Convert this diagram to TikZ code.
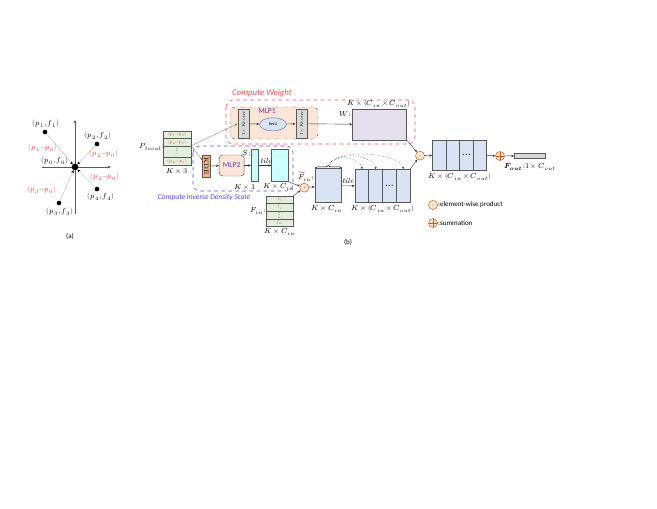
\documentclass[tikz,border=0pt]{standalone}
\usepackage{amsmath}
\usepackage{fontspec}
\usepackage{unicode-math}
\setmathfont{latinmodern-math.otf}
\newfontfamily\carlito{Carlito}
\usetikzlibrary{arrows.meta,shapes.geometric,decorations.pathreplacing}

\definecolor{cellgreen}{HTML}{E2EFDA}
\definecolor{labred}{HTML}{E0403C}
\definecolor{forange}{HTML}{E46C3C}
\definecolor{peach}{HTML}{FBE5D6}
\definecolor{convgray}{HTML}{D9D9D9}
\definecolor{boxblue}{HTML}{DAE3F3}
\definecolor{wlav}{HTML}{E6DFEE}
\definecolor{kdeorange}{HTML}{F4B183}
\definecolor{tilecyan}{HTML}{CCFFFF}
\definecolor{mlpurple}{HTML}{7030A0}
\definecolor{wred}{HTML}{FF4B4B}
\definecolor{dblue}{HTML}{4B4BFF}
\definecolor{edgegray}{HTML}{595959}
\definecolor{circbrown}{HTML}{C55A11}
\definecolor{navy}{HTML}{1F3C88}

\newcommand\fsmath{\fontsize{6.3}{7}\selectfont}
\newcommand\fsred{\fontsize{6.3}{7}\selectfont}
\newcommand\fstiny{\fontsize{3.6}{4}\selectfont}
\newcommand\fssans{\carlito\fontsize{6}{7}\selectfont}
\newcommand\vdotsbig{{\fontsize{7.5}{7.5}\selectfont\bfseries$\vdots$}}

\begin{document}
\begin{tikzpicture}[x=0.03cm, y=-0.03cm,
	every node/.style={inner sep=0pt},
	lab/.style={font=\fsmath},
	redlab/.style={font=\fsred, text=labred},
	dot/.style={shape=circle, fill=black, minimum size=0.14cm},
	vec/.style={draw=gray!60, line width=0.3pt, -{Stealth[black, length=2.5pt, width=2.5pt]}},
	axis/.style={draw=edgegray, line width=0.4pt, -{Stealth[length=3pt, width=2.5pt]}},
	arr/.style={draw=black!80, line width=0.35pt, -{Stealth[length=2.5pt, width=2pt]}},
	gcell/.style={draw=edgegray, fill=cellgreen, minimum width=0.84cm, minimum height=0.225cm, font=\fstiny, text=labred},
	fcell/.style={draw=edgegray, fill=cellgreen, minimum width=0.81cm, minimum height=0.21cm, font=\fstiny, text=forange},
	conv/.style={draw=edgegray, fill=convgray, minimum width=0.345cm, minimum height=0.87cm, font=\fstiny},
	bcol/.style={draw=edgegray, fill=boxblue, minimum width=0.4125cm, minimum height=1.0cm, font=\fsmath},
	pcol/.style={draw=edgegray, fill=boxblue, minimum width=0.408cm, minimum height=0.92cm, font=\fsmath},
	mulc/.style={shape=circle, draw=circbrown, fill=peach, minimum size=0.27cm,
		path picture={\fill[black] (path picture bounding box.center) circle (0.35pt);}},
	sumc/.style={shape=circle, draw=circbrown, fill=peach, minimum size=0.27cm,
		path picture={\draw[circbrown] (path picture bounding box.north) -- (path picture bounding box.south)
			(path picture bounding box.west) -- (path picture bounding box.east);}},
	spread/.style={draw=navy, densely dotted, line width=0.35pt, -{Stealth[length=2pt, width=2pt]}}]
	
	\useasboundingbox (0,0) rectangle (657,508);
	
	% (a) local neighbourhood
	\coordinate (xl) at (42,167);
	\coordinate (xr) at (111,167);
	\coordinate (yb) at (75,214);
	\coordinate (yt) at (75,120);
	\draw[axis] (xl) -- (xr);
	\draw[axis] (yb) -- (yt);
	
	\node[dot, minimum size=0.2cm] (p0) at (75,167) {};
	\node[dot] (p1) at (45,132) {};
	\node[dot] (p2) at (97,144) {};
	\node[dot] (p3) at (59,203) {};
	\node[dot] (p4) at (97,189) {};
	
	\draw[vec] (p1) -- (p0);
	\draw[vec] (p2) -- (p0);
	\draw[vec] (p3) -- (p0);
	\draw[vec] (p4) -- (p0);
	
	\node[lab] (l1) at (46,124) {$(p_1,f_1)$};
	\node[lab] (l2) at (98,136) {$(p_2,f_2)$};
	\node[lab] (l3) at (60,212) {$(p_3,f_3)$};
	\node[lab] (l4) at (101,197) {$(p_4,f_4)$};
	\node[lab] (l0) at (55,161) {$(p_0,f_0)$};
	\node[redlab] (d1) at (43,148) {$(p_1{-}p_0)$};
	\node[redlab] (d2) at (104,154) {$(p_2{-}p_0)$};
	\node[redlab] (d4) at (105,177) {$(p_4{-}p_0)$};
	\node[redlab] (d3) at (42,190) {$(p_3{-}p_0)$};
	\node[font=\fssans] (capa) at (70,236) {(a)};
	
	% (b) frames
	\draw[wred, dashed, line width=0.45pt, rounded corners=6pt] (226,100) rectangle (415,144);
	\node[font=\carlito\itshape\fontsize{7.5}{8}\selectfont, text=wred] (tw) at (262,93) {Compute Weight};
	\draw[dblue, dashed, line width=0.45pt, rounded corners=6pt] (193,146) rectangle (293,191);
	\node[font=\carlito\itshape\fontsize{6.4}{7}\selectfont, text=dblue] (ts) at (204,197) {Compute Inverse Density Scale};
	
	% P_local
	\node[gcell] (pl1) at (177,134.75) {$(p_1{-}p_0)$};
	\node[gcell] (pl2) at (177,142.25) {$(p_2{-}p_0)$};
	\node[gcell, minimum height=0.345cm, text=black] (pld) at (177,151.75) {\vdotsbig};
	\node[gcell] (plk) at (177,161.25) {$(p_K{-}p_0)$};
	\node[lab] (plab) at (152,147) {$P_{local}$:};
	\node[lab] (pdim) at (177,171) {$K\times 3$};
	
	% MLP1 branch
	\node[draw=edgegray, fill=peach, dash dot, rounded corners=4pt, minimum width=2.64cm, minimum height=0.96cm] (mlp1) at (274,123) {};
	\node[font=\carlito\fontsize{6.5}{7}\selectfont, text=mlpurple] (mlp1lab) at (267,111) {MLP1};
	\node[conv] (conv1) at (243.5,123.7) {\rotatebox{90}{$1\times K$conv}};
	\node[shape=ellipse, draw=navy!70, fill=boxblue, minimum width=0.81cm, minimum height=0.39cm, font=\carlito\fontsize{3.5}{4}\selectfont] (relu) at (273,124.3) {ReLU};
	\node[conv] (conv2) at (301.5,123.7) {\rotatebox{90}{$1\times K$conv}};
	\node[draw=edgegray, fill=wlav, minimum width=1.62cm, minimum height=0.93cm] (wbox) at (379.5,124.5) {};
	\node[lab] (wlab) at (345,114) {$W$:};
	\node[lab] (wdim) at (379,104) {$K\times(C_{in}\times C_{out})$};
	
	\draw[draw=gray, line width=0.3pt, -{Stealth[length=2.5pt, width=2pt]}] (pld.north east) -- (conv1.west);
	\draw[arr] (conv1) -- (relu);
	\draw[arr] (relu) -- (conv2);
	\draw[arr] (conv2) -- (wbox);
	
	% density branch
	\node[draw=edgegray, fill=kdeorange, minimum width=0.225cm, minimum height=0.66cm, font=\fontsize{5.5}{6}\selectfont] (kde) at (206.3,166) {\rotatebox{-90}{KDE}};
	\node[draw=edgegray, fill=peach, rounded corners=3pt, minimum width=0.75cm, minimum height=0.63cm, font=\carlito\fontsize{6.5}{7}\selectfont, text=mlpurple] (mlp2) at (231.7,165.5) {MLP2};
	\node[draw=edgegray, fill=tilecyan, minimum width=0.22cm, minimum height=0.97cm] (sbar) at (254.7,165.5) {};
	\node[draw=edgegray, fill=tilecyan, minimum width=0.5cm, minimum height=0.97cm] (scin) at (280,165.5) {};
	\node[lab] (slab) at (247,153) {$S$:};
	\node[lab] (tile1) at (266,161) {\textit{tile}};
	\node[lab] (sdim) at (245,187) {$K\times 1$};
	\node[lab] (scdim) at (279,187) {$K\times C_{in}$};
	
	\draw[draw=gray, line width=0.3pt, -{Stealth[length=2.5pt, width=2pt]}] (pld.north east) -- ([yshift=5pt]kde.west);
	\draw[arr] (kde) -- (mlp2);
	\draw[arr] (mlp2) -- (sbar);
	\draw[arr] (sbar) -- (scin);
	
	% F_in
	\node[fcell] (fr1) at (279.5,199.5) {$f_1$};
	\node[fcell, minimum height=0.24cm] (fr2) at (279.5,207) {$f_2$};
	\node[fcell, minimum height=0.24cm, text=black] (frd) at (279.5,215) {\vdotsbig};
	\node[fcell] (frk) at (279.5,222.5) {$f_K$};
	\node[lab] (flab) at (258,211) {$F_{in}$:};
	\node[lab] (fdim) at (280,232) {$K\times C_{in}$};
	
	\node[mulc] (muls) at (304.3,187.7) {};
	\node[lab] (ftlab) at (306,177) {$\widetilde{F}_{in}$:};
	\draw[arr] (scin.south east) -- (muls);
	\draw[arr] (fr1.north east) -- (muls);
	
	% tiled features
	\node[draw=edgegray, fill=boxblue, minimum width=0.8cm, minimum height=1.03cm] (ktile) at (328.3,185.5) {};
	\node[lab] (kdim) at (327,209) {$K\times C_{in}$};
	\draw[arr] (muls) -- (ktile);
	
	\node[bcol] (c1) at (361.9,186) {};
	\node[bcol] (c2) at (375.6,186) {};
	\node[bcol] (c3) at (389.4,186) {\textbf{...}};
	\node[bcol] (c4) at (403.1,186) {};
	\node[lab] (cdim) at (383,209) {$K\times(C_{in}\times C_{out})$};
	\node[lab] (tile2) at (348,181) {\textit{tile}};
	\draw[arr] (ktile) -- (c1);
	
	\draw[decorate, decoration={brace, amplitude=2pt}, line width=0.5pt] (ktile.north west) -- (ktile.north east);
	\coordinate (apex) at ([yshift=2.2pt]ktile.north);
	\draw[spread] (apex) .. controls +(8,-14) and +(0,-10) .. (c1.north);
	\draw[spread] (apex) .. controls +(10,-17) and +(0,-12) .. (c2.north);
	\draw[spread] (apex) .. controls +(12,-20) and +(0,-14) .. (c4.north);
	
	% weighting and sum
	\node[mulc] (mulw) at (420,155.7) {};
	\draw[arr] (wbox.south east) -- (mulw);
	\draw[arr] (c4.north east) -- (mulw);
	
	\node[pcol] (q1) at (439.1,155.3) {};
	\node[pcol] (q2) at (452.7,155.3) {};
	\node[pcol] (q3) at (466.3,155.3) {\textbf{...}};
	\node[pcol] (q4) at (479.9,155.3) {};
	\node[lab] (qdim) at (460,177) {$K\times(C_{in}\times C_{out})$};
	\draw[arr] (mulw) -- (q1);
	
	\node[sumc] (sumk) at (500,156) {};
	\node[draw=edgegray, fill=convgray, minimum width=0.92cm, minimum height=0.15cm] (fout) at (529.7,155.8) {};
	\node[lab] (foutlab) at (530,167) {$\symbfit{F}_{\symbfit{out}}$:$1\times C_{out}$};
	\draw[arr] (q4) -- (sumk);
	\draw[arr] (sumk) -- (fout);
	
	% legend
	\node[mulc] (legm) at (433,205) {};
	\node[font=\fssans, anchor=west] (legmt) at (438,205) {:element-wise product};
	\node[sumc] (legs) at (433,223) {};
	\node[font=\fssans, anchor=west] (legst) at (438,223) {:summation};
	\node[font=\fssans] (capb) at (348,242) {(b)};
	
\end{tikzpicture}
\end{document}
